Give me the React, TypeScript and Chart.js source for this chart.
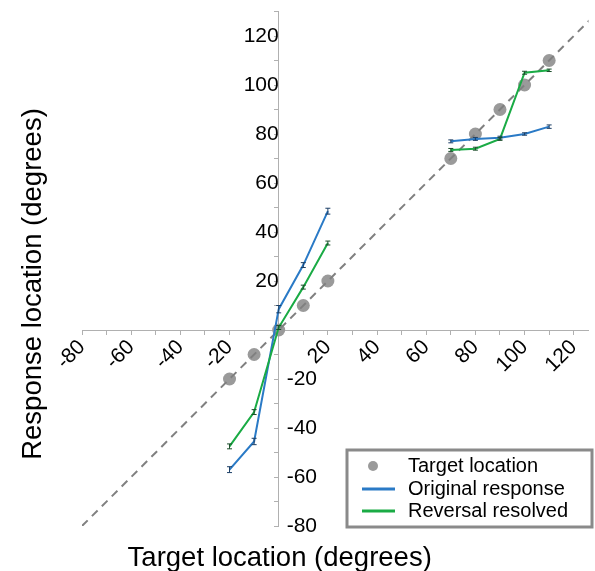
import React, { useEffect, useRef } from 'react';
import { Chart, registerables } from 'chart.js';

Chart.register(...registerables);

// ---- data ----
const targetX = [-20, -10, 0, 10, 20, 70, 80, 90, 100, 110];
const targetY = [-20, -10, 0, 10, 20, 70, 80, 90, 100, 110];
const originalResponse = [-57, -45.5, 8.5, 26.5, 48.5, 77, 78, 78.5, 80, 83];
const originalErr = [1.2, 1.3, 1.5, 1.0, 1.2, 0.6, 0.6, 0.6, 0.5, 0.7];
const reversalResolved = [-47.5, -33.5, 1, 17.5, 35.5, 73.5, 74, 78, 105, 106];
const reversalErr = [1.0, 1.0, 0.8, 0.8, 0.8, 0.6, 0.6, 0.6, 0.6, 0.5];
const diagonal = [-80, 130];
const legendLabels = ['Target location', 'Original response', 'Reversal resolved'];
const xTitle = 'Target location (degrees)';
const yTitle = 'Response location (degrees)';

const FONT = "'Liberation Sans', Arial, Helvetica, sans-serif";
const GRAY = '#9a9a9a';
const BLUE = '#2a7ac6';
const GREEN = '#1aab45';
const AXIS = '#b0b0b0';
const TICK_SIZE = 21;

const zeroPadding = (s: any) => {
  s.paddingLeft = 0;
  s.paddingRight = 0;
  s.paddingTop = 0;
  s.paddingBottom = 0;
};

const extrasPlugin = {
  id: 'extras',
  afterDatasetsDraw(chart: any) {
    const ctx = chart.ctx;
    const xs = chart.scales.x;
    const ys = chart.scales.y;
    const series = [
      { vals: originalResponse, err: originalErr, color: '#1c3f66' },
      { vals: reversalResolved, err: reversalErr, color: '#1b4d2a' },
    ];
    ctx.save();
    ctx.lineWidth = 1;
    series.forEach((s) => {
      ctx.strokeStyle = s.color;
      targetX.forEach((x, i) => {
        const px = xs.getPixelForValue(x);
        const top = ys.getPixelForValue(s.vals[i] + s.err[i]);
        const bot = ys.getPixelForValue(s.vals[i] - s.err[i]);
        ctx.beginPath();
        ctx.moveTo(px, top);
        ctx.lineTo(px, bot);
        ctx.moveTo(px - 2.5, top);
        ctx.lineTo(px + 2.5, top);
        ctx.moveTo(px - 2.5, bot);
        ctx.lineTo(px + 2.5, bot);
        ctx.stroke();
      });
    });
    ctx.restore();
  },
  afterDraw(chart: any) {
    const ctx = chart.ctx;
    const xs = chart.scales.x;
    const ys = chart.scales.y;
    const axisX = xs.getPixelForValue(0);
    ctx.save();
    // negative y tick labels on the right of the y axis
    ctx.fillStyle = '#000';
    ctx.font = `${TICK_SIZE}px ${FONT}`;
    ctx.textAlign = 'left';
    ctx.textBaseline = 'middle';
    ys.ticks.forEach((t: any) => {
      if (t.value < 0 && t.value % 20 === 0) {
        ctx.fillText(String(t.value), axisX + 8, ys.getPixelForValue(t.value));
      }
    });
    // axis titles
    ctx.font = `27.5px ${FONT}`;
    ctx.textAlign = 'center';
    ctx.textBaseline = 'alphabetic';
    ctx.fillText(xTitle, axisX + 1, 566);
    ctx.save();
    ctx.translate(41, 284);
    ctx.rotate(-Math.PI / 2);
    ctx.fillText(yTitle, 0, 0);
    ctx.restore();
    // legend
    const lx = 347, ly = 450, lw = 245, lh = 77;
    ctx.fillStyle = '#fff';
    ctx.fillRect(lx, ly, lw, lh);
    ctx.strokeStyle = '#8a8a8a';
    ctx.lineWidth = 3;
    ctx.strokeRect(lx, ly, lw, lh);
    ctx.fillStyle = GRAY;
    ctx.beginPath();
    ctx.arc(373, 466, 5, 0, Math.PI * 2);
    ctx.fill();
    ctx.lineWidth = 3;
    ctx.strokeStyle = BLUE;
    ctx.beginPath();
    ctx.moveTo(362, 489);
    ctx.lineTo(395, 489);
    ctx.stroke();
    ctx.strokeStyle = GREEN;
    ctx.beginPath();
    ctx.moveTo(362, 511);
    ctx.lineTo(395, 511);
    ctx.stroke();
    ctx.fillStyle = '#000';
    ctx.font = `20px ${FONT}`;
    ctx.textAlign = 'left';
    ctx.textBaseline = 'alphabetic';
    ctx.fillText(legendLabels[0], 408, 472);
    ctx.fillText(legendLabels[1], 408, 495);
    ctx.fillText(legendLabels[2], 408, 517);
    ctx.restore();
  },
};

const gapSegment = {
  borderColor: (c: any) => (c.p1.parsed.x - c.p0.parsed.x > 20 ? 'rgba(0,0,0,0)' : undefined),
};

export default function App() {
  const ref = useRef<HTMLCanvasElement | null>(null);
  useEffect(() => {
    if (!ref.current) return;
    const chart = new Chart(ref.current, {
      type: 'scatter',
      data: {
        datasets: [
          {
            label: legendLabels[0],
            data: targetX.map((x, i) => ({ x, y: targetY[i] })),
            backgroundColor: GRAY,
            borderWidth: 0,
            pointRadius: 6.5,
            order: 4,
          },
          {
            type: 'line',
            label: 'diagonal',
            data: diagonal.map((v) => ({ x: v, y: v })),
            borderColor: '#808080',
            borderWidth: 2,
            borderDash: [8, 6],
            pointRadius: 0,
            fill: false,
            order: 3,
          },
          {
            label: legendLabels[1],
            data: targetX.map((x, i) => ({ x, y: originalResponse[i] })),
            showLine: true,
            borderColor: BLUE,
            backgroundColor: BLUE,
            borderWidth: 2,
            pointRadius: 0,
            segment: gapSegment,
            order: 2,
          },
          {
            label: legendLabels[2],
            data: targetX.map((x, i) => ({ x, y: reversalResolved[i] })),
            showLine: true,
            borderColor: GREEN,
            backgroundColor: GREEN,
            borderWidth: 2,
            pointRadius: 0,
            segment: gapSegment,
            order: 1,
          },
        ] as any,
      },
      options: {
        responsive: false,
        animation: false,
        events: [],
        layout: { padding: { left: 82, right: 3, top: 11.5, bottom: 45 } },
        plugins: { legend: { display: false }, tooltip: { enabled: false } },
        scales: {
          x: {
            type: 'linear',
            min: -80,
            max: 126,
            position: { y: 0 } as any,
            afterFit: zeroPadding,
            ticks: {
              stepSize: 10,
              includeBounds: false,
              autoSkip: false,
              minRotation: 45,
              maxRotation: 45,
              padding: 1,
              color: '#000',
              font: { family: FONT, size: TICK_SIZE },
              callback: (v: any) => (v !== 0 && v % 20 === 0 ? String(v) : ''),
            },
            grid: { drawOnChartArea: false, drawTicks: true, tickLength: 4, color: AXIS },
            border: { color: AXIS, width: 1 },
          },
          y: {
            type: 'linear',
            min: -80,
            max: 130,
            position: { x: 0 } as any,
            afterFit: zeroPadding,
            ticks: {
              stepSize: 10,
              autoSkip: false,
              padding: 4,
              color: '#000',
              font: { family: FONT, size: TICK_SIZE },
              callback: (v: any) => (v > 0 && v % 20 === 0 ? String(v) : ''),
            },
            grid: { drawOnChartArea: false, drawTicks: true, tickLength: 4, color: AXIS },
            border: { color: AXIS, width: 1 },
          },
        },
      } as any,
      plugins: [extrasPlugin],
    });
    return () => chart.destroy();
  }, []);
  return (
    <div style={{ position: 'absolute', left: 0, top: 0, width: 595, height: 571, background: '#fff' }}>
      <canvas ref={ref} width={595} height={571} style={{ display: 'block' }} />
    </div>
  );
}
